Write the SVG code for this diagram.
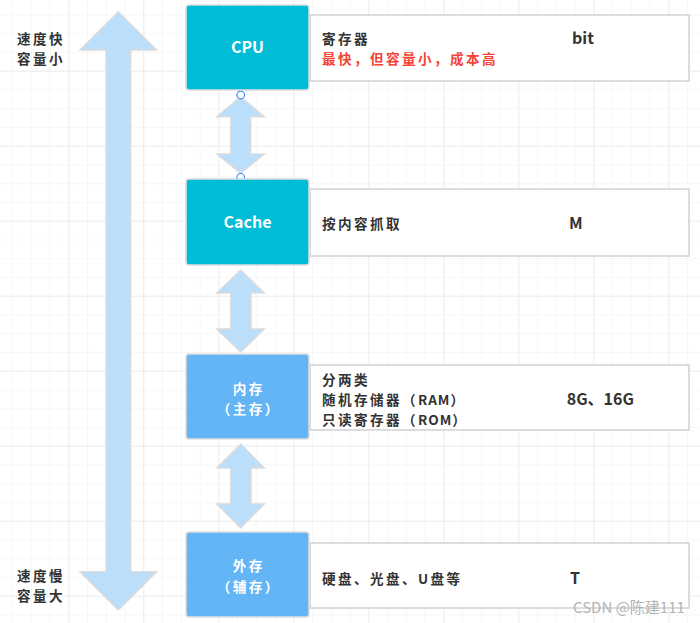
<svg xmlns="http://www.w3.org/2000/svg" width="700" height="623" viewBox="0 0 700 623">
<defs>
<pattern id="minor" x="-5.7" y="-3.3" width="18.75" height="18.75" patternUnits="userSpaceOnUse">
<path d="M18.75 0V18.75M0 18.75H18.75" stroke="#efefef" stroke-width="1" fill="none"/>
</pattern>
<pattern id="major" x="-5.7" y="-3.3" width="75" height="75" patternUnits="userSpaceOnUse">
<path d="M75 0V75M0 75H75" stroke="#e2e2e2" stroke-width="1" fill="none"/>
</pattern>
</defs>
<style>
.cjk{font-family:"Noto Sans CJK SC","Liberation Sans",sans-serif;font-size:13.6px;letter-spacing:2.4px;font-weight:bold;fill:#333}
.ls{letter-spacing:1px}
.lat{font-family:"Noto Sans CJK SC","Liberation Sans",sans-serif;font-size:16px;font-weight:bold;fill:#333}
.lbl{font-family:"Noto Sans CJK SC","Liberation Sans",sans-serif;font-size:13.6px;letter-spacing:2.4px;font-weight:bold;fill:#fff;text-anchor:middle}
.lbl2{font-family:"Noto Sans CJK SC","Liberation Sans",sans-serif;font-size:16px;font-weight:bold;fill:#fff;text-anchor:middle}
.red{fill:#f44336}
.cyan{fill:#00bcd4;stroke:#dedede;stroke-width:1.5}
.blue{fill:#64b5f6;stroke:#dedede;stroke-width:1.5}
.panel{fill:#fff;stroke:#dcdcdc;stroke-width:2}
.arrow{fill:#bbdefb;stroke:#dcdcdc;stroke-width:1.5;stroke-linejoin:miter}
.port{fill:#fff;stroke:#3d8ef7;stroke-width:1.2}
.wm{font-family:"Noto Sans CJK SC","Liberation Sans",sans-serif;font-size:15px;fill:#b4b4b4}
</style>
<rect width="700" height="623" fill="#fff"/>
<rect width="700" height="623" fill="url(#minor)"/>
<rect width="700" height="623" fill="url(#major)"/>

<g id="side-labels">
<text class="cjk" x="17" y="44">速度快</text>
<text class="cjk" x="17" y="64">容量小</text>
<text class="cjk" x="17" y="581">速度慢</text>
<text class="cjk" x="17" y="601">容量大</text>
</g>

<g id="connectors">
<path class="arrow" d="M118.3 11.7L156.7 50H130.7V571.7H156.7L118.3 610L80 571.7H106V50H80Z"/>
<path class="arrow" d="M240.7 96.7L264.3 116.7H250.7V154H264.3L240.7 173.3L216.7 154H230.7V116.7H216.7Z"/>
<path class="arrow" d="M240.7 270L264.3 293H251V329H264.3L240.7 352L216.7 329H230.7V293H216.7Z"/>
<path class="arrow" d="M240.7 444L264.3 468H251V504H264.3L240.7 528L216.7 504H230.7V468H216.7Z"/>
<circle class="port" cx="240.7" cy="95" r="3.8"/>
<circle class="port" cx="240.7" cy="177.3" r="3.8"/>
</g>

<g id="cpu">
<rect class="panel" x="310" y="15" width="379" height="66"/>
<rect class="cyan" x="186" y="5" width="123" height="85" rx="3"/>
<text class="lbl2" x="247.5" y="53">CPU</text>
<text class="cjk" x="322" y="44">寄存器</text>
<text class="cjk red" x="322" y="64">最快，但容量小，成本高</text>
<text class="lat" x="572" y="44">bit</text>
</g>

<g id="cache">
<rect class="panel" x="310" y="189" width="379" height="67"/>
<rect class="cyan" x="186" y="179" width="123" height="86" rx="3"/>
<text class="lbl2" x="247.5" y="228">Cache</text>
<text class="cjk" x="322" y="229">按内容抓取</text>
<text class="lat" x="569" y="229">M</text>
</g>

<g id="memory">
<rect class="panel" x="310" y="365" width="379" height="65"/>
<rect class="blue" x="186" y="354" width="123" height="85" rx="3"/>
<text class="lbl" x="248.7" y="394">内存</text>
<text class="lbl" x="248.7" y="414">（主存）</text>
<text class="cjk" x="322" y="385">分两类</text>
<text class="cjk" x="322" y="405">随机存储器（<tspan class="ls">RAM</tspan>）</text>
<text class="cjk" x="322" y="425">只读寄存器（<tspan class="ls">ROM</tspan>）</text>
<text class="lat" x="566.7" y="405">8G、16G</text>
</g>

<g id="storage">
<rect class="panel" x="310" y="543" width="379" height="65"/>
<rect class="blue" x="186" y="532" width="123" height="85" rx="3"/>
<text class="lbl" x="248.7" y="571">外存</text>
<text class="lbl" x="248.7" y="592">（辅存）</text>
<text class="cjk" x="322" y="584">硬盘、光盘、U盘等</text>
<text class="lat" x="570" y="584">T</text>
</g>

<text class="wm" x="573" y="613">CSDN @陈建111</text>
</svg>
